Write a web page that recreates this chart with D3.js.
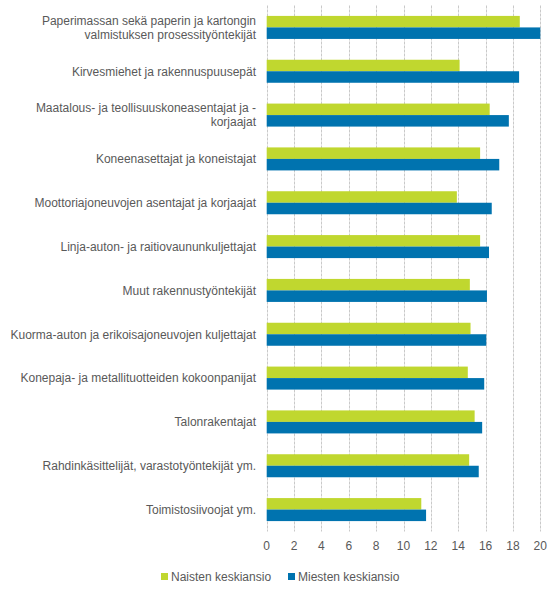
<!DOCTYPE html>
<html><head><meta charset="utf-8">
<script src="https://cdn.jsdelivr.net/npm/d3@7"></script>
<style>body{margin:0;background:#fff}svg{display:block;font-family:"Liberation Sans",Arial,sans-serif}</style>
</head><body><svg id="c" width="555" height="596"></svg>
<script>
const categories = [
  "Paperimassan sekä paperin ja kartongin\nvalmistuksen prosessityöntekijät",
  "Kirvesmiehet ja rakennuspuusepät",
  "Maatalous- ja teollisuuskoneasentajat ja -\nkorjaajat",
  "Koneenasettajat ja koneistajat",
  "Moottoriajoneuvojen asentajat ja korjaajat",
  "Linja-auton- ja raitiovaununkuljettajat",
  "Muut rakennustyöntekijät",
  "Kuorma-auton ja erikoisajoneuvojen kuljettajat",
  "Konepaja- ja metallituotteiden kokoonpanijat",
  "Talonrakentajat",
  "Rahdinkäsittelijät, varastotyöntekijät ym.",
  "Toimistosiivoojat ym."
];
const naiset = [18.5, 14.1, 16.3, 15.6, 13.9, 15.6, 14.85, 14.9, 14.7, 15.2, 14.8, 11.3];
const miehet = [20.0, 18.45, 17.7, 17.0, 16.45, 16.25, 16.1, 16.05, 15.9, 15.75, 15.5, 11.65];
const xTicks = [0, 2, 4, 6, 8, 10, 12, 14, 16, 18, 20];
const seriesNames = ["Naisten keskiansio", "Miesten keskiansio"];
const colors = ["#C0D72F", "#0073AF"];

(function () {
const svg = d3.select("#c");
const pL = 266.7, pR = 540.3, pT = 5.5, pB = 531.5;
const x = d3.scaleLinear().domain([0, 20]).range([pL, pR]);
const y = d3.scaleBand().domain(categories).range([pT, pB]).paddingInner(0.475).paddingOuter(0.2375);
const sub = d3.scaleBand().domain([0, 1]).range([0, y.bandwidth()]);

// gridlines
svg.append("g").selectAll("line").data(xTicks).join("line")
  .attr("x1", d => Math.round(x(d)) + 0.5).attr("x2", d => Math.round(x(d)) + 0.5)
  .attr("y1", pT).attr("y2", pB)
  .attr("stroke", "#c9c9c9").attr("stroke-width", 1).attr("stroke-dasharray", "3,1");

// bars
[naiset, miehet].forEach((vals, si) => {
  svg.append("g").selectAll("rect").data(vals).join("rect")
    .attr("x", x(0))
    .attr("y", (d, i) => y(categories[i]) + sub(si))
    .attr("width", d => x(d) - x(0))
    .attr("height", sub.bandwidth())
    .attr("fill", colors[si]);
});

// category labels
const lab = svg.append("g").attr("font-size", 12).attr("fill", "#595959").attr("text-anchor", "end");
categories.forEach(c => {
  const lines = c.split("\n");
  const cy = y(c) + y.bandwidth() / 2;
  const lh = 14;
  const t = lab.append("text").attr("x", 256);
  lines.forEach((l, k) => {
    t.append("tspan").attr("x", 256)
      .attr("y", cy + (k - (lines.length - 1) / 2) * lh + 4.3)
      .text(l);
  });
});

// x tick labels
svg.append("g").attr("font-size", 12).attr("fill", "#595959").attr("text-anchor", "middle")
  .selectAll("text").data(xTicks).join("text")
  .attr("x", d => x(d)).attr("y", 549.5).text(d => d);

// legend
const lg = svg.append("g").attr("font-size", 12).attr("fill", "#595959");
const lx = [161, 288];
seriesNames.forEach((n, i) => {
  lg.append("rect").attr("x", lx[i]).attr("y", 573).attr("width", 7).attr("height", 7).attr("fill", colors[i]);
  lg.append("text").attr("x", lx[i] + 10).attr("y", 581).text(n);
});
})();
</script></body></html>
